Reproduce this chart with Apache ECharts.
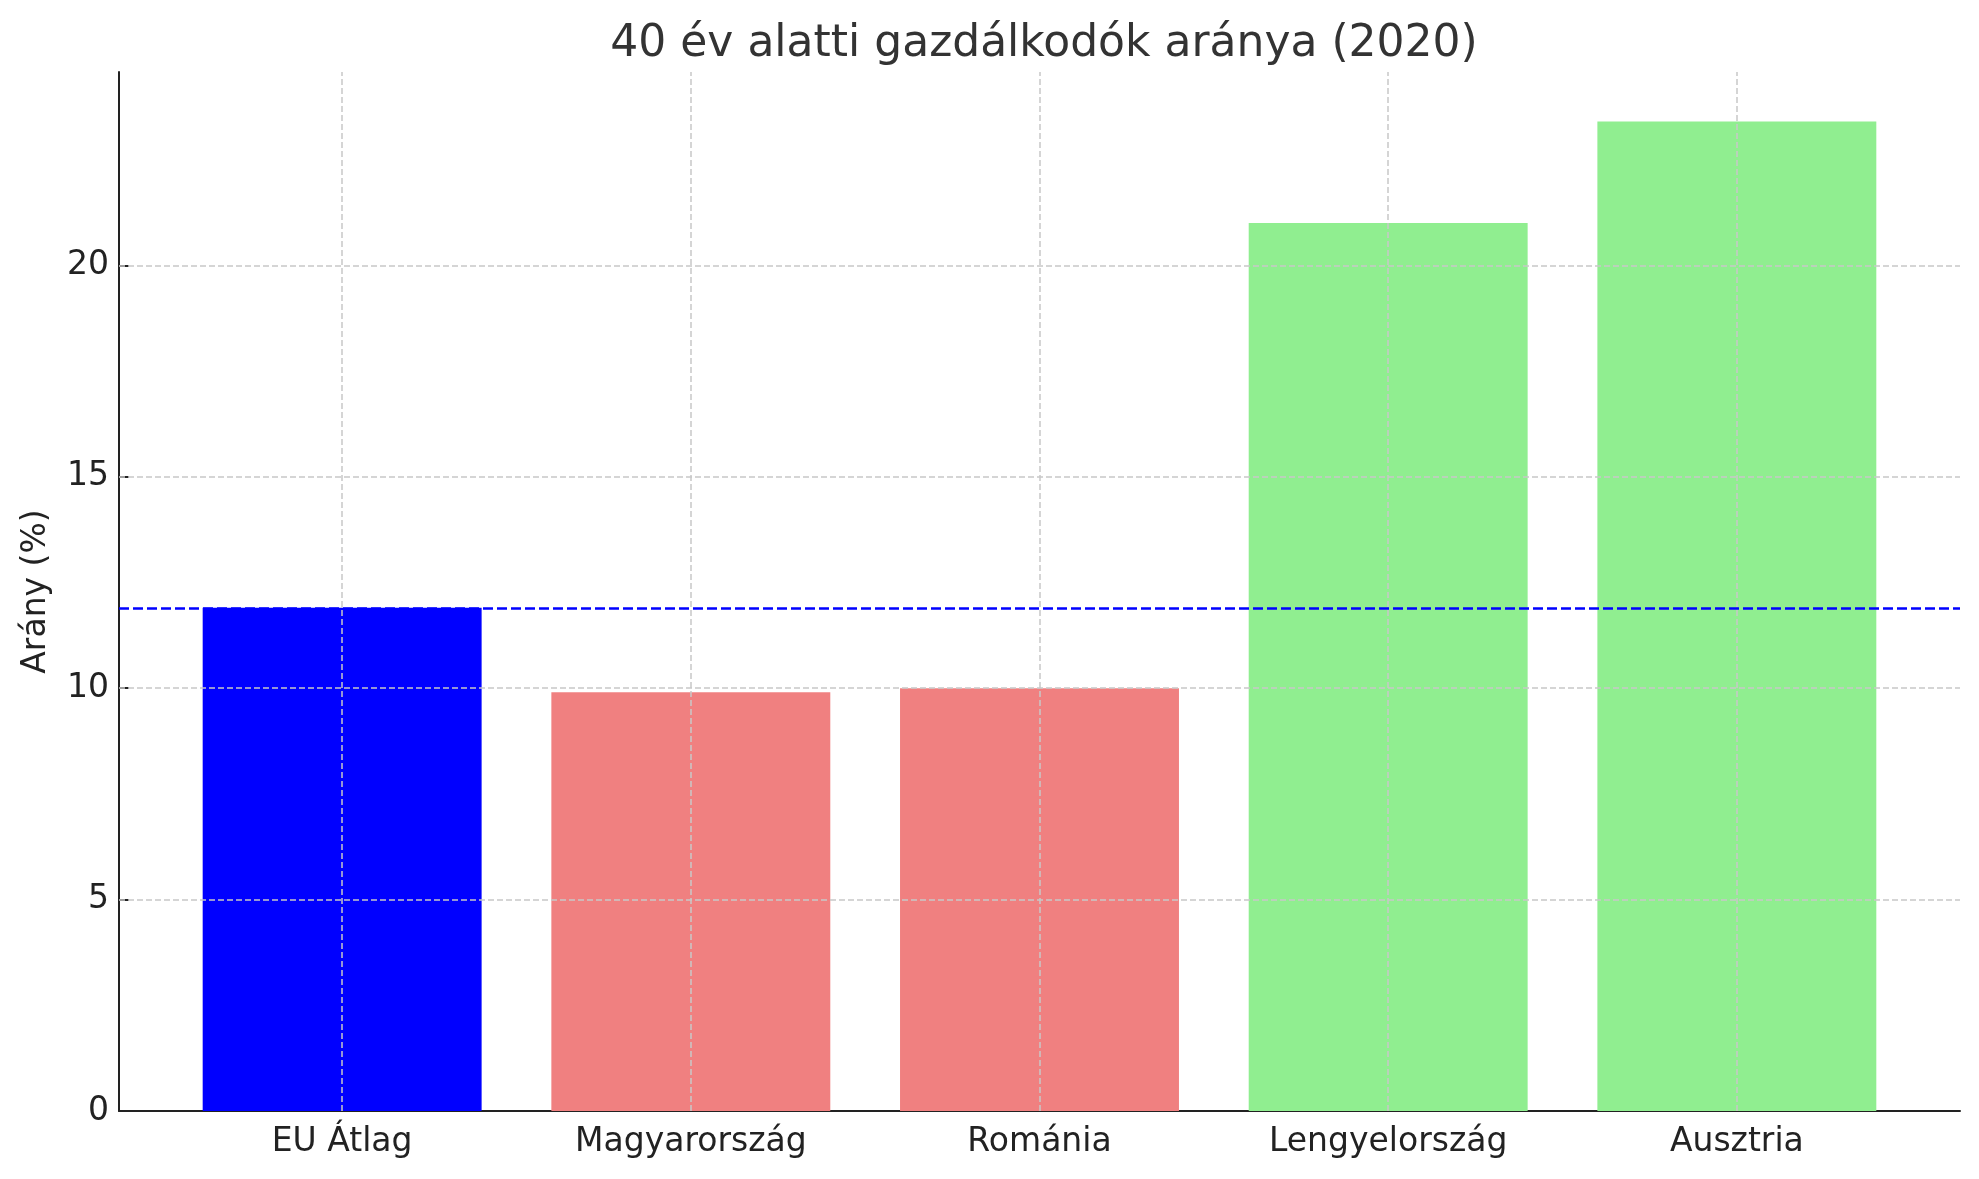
<!DOCTYPE html>
<html>
<head>
<meta charset="utf-8">
<script src="https://cdn.jsdelivr.net/npm/echarts@6/dist/echarts.min.js"></script>
<style>
html,body{margin:0;padding:0;background:#fff;}
#chart{width:1979px;height:1179px;}
</style>
</head>
<body>
<div id="chart"></div>
<script>
const categories = ['EU Átlag', 'Magyarország', 'Románia', 'Lengyelország', 'Ausztria'];
const values = [11.9, 9.9, 10.0, 21.0, 23.4];
const barColors = ['#0000ff', '#f08080', '#f08080', '#90ee90', '#90ee90'];
const euAverage = 11.9;
const yTicks = [0, 5, 10, 15, 20];
const titleText = '40 év alatti gazdálkodók aránya (2020)';
const yAxisTitle = 'Arány (%)';

const xIdx = categories.map((c, i) => i);
const barW = 0.8;
const xPad = (categories.length - 1 + barW) * 0.05;
const xMin = -barW / 2 - xPad;
const xMax = categories.length - 1 + barW / 2 + xPad;
const yMax = Math.max(...values) * 1.05;

const font = 'DejaVu Sans';
const chart = echarts.init(document.getElementById('chart'));

const gridLineStyle = { color: '#c8c8c8', width: 1.5, type: [6, 3] };

chart.setOption({
  animation: false,
  backgroundColor: '#ffffff',
  title: {
    text: titleText,
    left: 1039, textAlign: 'center',
    top: 18,
    textStyle: { fontFamily: font, fontSize: 44, fontWeight: 'normal', color: '#333333' }
  },
  grid: { left: 119, right: 19, top: 72, bottom: 68 },
  xAxis: {
    type: 'value', min: xMin, max: xMax,
    splitLine: { show: false },
    axisLine: { show: true, onZero: false, lineStyle: { color: '#222222', width: 2 } },
    axisTick: { show: true, inside: true, length: 10, customValues: xIdx, lineStyle: { color: '#222222', width: 2 } },
    axisLabel: {
      customValues: xIdx, margin: 15,
      formatter: v => categories[Math.round(v)] || '',
      fontFamily: font, fontSize: 33, color: '#222222'
    }
  },
  yAxis: {
    type: 'value', min: 0, max: yMax,
    name: yAxisTitle, nameLocation: 'middle', nameGap: 66, nameRotate: 90,
    nameTextStyle: { fontFamily: font, fontSize: 33, color: '#222222' },
    splitLine: { show: false },
    axisLine: { show: true, onZero: false, lineStyle: { color: '#222222', width: 2 } },
    axisTick: { show: true, inside: true, length: 10, customValues: yTicks, lineStyle: { color: '#222222', width: 2 } },
    axisLabel: {
      customValues: yTicks, margin: 10,
      fontFamily: font, fontSize: 33, color: '#222222'
    }
  },
  series: [{
    type: 'bar',
    barWidth: '80%',
    data: values.map((v, i) => ({ value: [i, v], itemStyle: { color: barColors[i] } })),
    markLine: {
      silent: true, symbol: 'none', label: { show: false },
      data: [
        ...xIdx.map(i => ({ xAxis: i, lineStyle: gridLineStyle })),
        ...yTicks.filter(t => t > 0).map(t => ({ yAxis: t, lineStyle: gridLineStyle })),
        { yAxis: euAverage, lineStyle: { color: '#0000ff', width: 2.5, type: [10, 4] } }
      ]
    }
  }]
});
</script>
</body>
</html>
